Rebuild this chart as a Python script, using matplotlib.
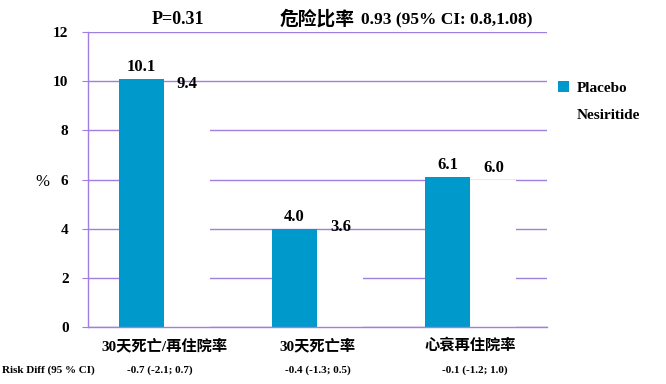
import matplotlib
matplotlib.use("Agg")
import matplotlib.pyplot as plt
import numpy as np

categories = ["30天死亡/再住院率", "30天死亡率", "心衰再住院率"]
placebo = [10.1, 4.0, 6.1]
nesiritide = [9.4, 3.6, 6.0]
risk_diff = ["-0.7 (-2.1; 0.7)", "-0.4 (-1.3; 0.5)", "-0.1 (-1.2; 1.0)"]
yticks = [0, 2, 4, 6, 8, 10, 12]

SERIF = ["Liberation Serif", "Noto Sans CJK SC", "DejaVu Sans"]
grid_c = "#A17FE0"
blue = "#0099CC"

fig = plt.figure(figsize=(6.66, 3.84), dpi=100)
ax = fig.add_axes([0.1321, 0.1484, 0.6892, 0.7683])
x = np.arange(len(categories))
w = 0.30
ax.bar(x - w/2, placebo, w, color=blue, zorder=3, label="Placebo")
ax.bar(x + w/2, nesiritide, w, color="white", zorder=3, label="Nesiritide")
ax.set_xlim(-0.5, 2.5)
ax.set_ylim(0, 12)
ax.set_yticks(yticks)
ax.set_yticklabels([str(t) for t in yticks], family=SERIF, fontweight="bold", fontsize=11)
ax.yaxis.grid(True, color=grid_c, linewidth=1, zorder=0)
ax.set_axisbelow(True)
for s in ["top", "right"]:
    ax.spines[s].set_visible(False)
for s in ["left", "bottom"]:
    ax.spines[s].set_color(grid_c)
    ax.spines[s].set_linewidth(1)
    ax.spines[s].set_zorder(5)
ax.tick_params(axis="y", colors=grid_c, labelcolor="black", length=4, pad=10)
ax.tick_params(axis="x", colors=grid_c, labelcolor="black", length=0, pad=8)
ax.set_xticks(x)
ax.set_xticklabels(categories, family=["Liberation Serif", "Noto Sans CJK SC"], fontweight="bold", fontsize=11)

for xi, v in zip(x - w/2, placebo):
    ax.text(xi, v + 0.15, f"{v:.1f}", ha="center", va="bottom", family=SERIF, fontweight="bold", fontsize=12)
for xi, v in zip(x + w/2, nesiritide):
    ax.text(xi, v + 0.15, f"{v:.1f}", ha="center", va="bottom", family=SERIF, fontweight="bold", fontsize=12)

fig.text(42/666, 1 - 182/384, "%", ha="center", va="center", family=SERIF, fontsize=12)

fig.text(178/666, 1 - 20/384, "P=0.31", ha="center", va="center", family=SERIF, fontweight="bold", fontsize=13)
fig.text(280/666, 1 - 19/384, "危险比率", ha="left", va="center", family=["Noto Sans CJK SC"], fontweight="bold", fontsize=13.5)
fig.text(361/666, 1 - 20/384, "0.93 (95% CI: 0.8,1.08)", ha="left", va="center", family=SERIF, fontweight="bold", fontsize=12.5)

ax.legend(loc="upper left", bbox_to_anchor=(0.995, 0.88), frameon=False,
          prop={"family": SERIF, "weight": "bold", "size": 11},
          handlelength=0.7, handleheight=0.7, handletextpad=0.5, labelspacing=0.85)

fig.text(2/666, 1 - 370/384, "Risk Diff (95 % CI)", ha="left", va="center", family=SERIF, fontweight="bold", fontsize=8)
rd_x = [160, 318, 475]
for xp, s in zip(rd_x, risk_diff):
    fig.text(xp/666, 1 - 370/384, s, ha="center", va="center", family=SERIF, fontweight="bold", fontsize=8)

fig.savefig("out.png", dpi=100)
